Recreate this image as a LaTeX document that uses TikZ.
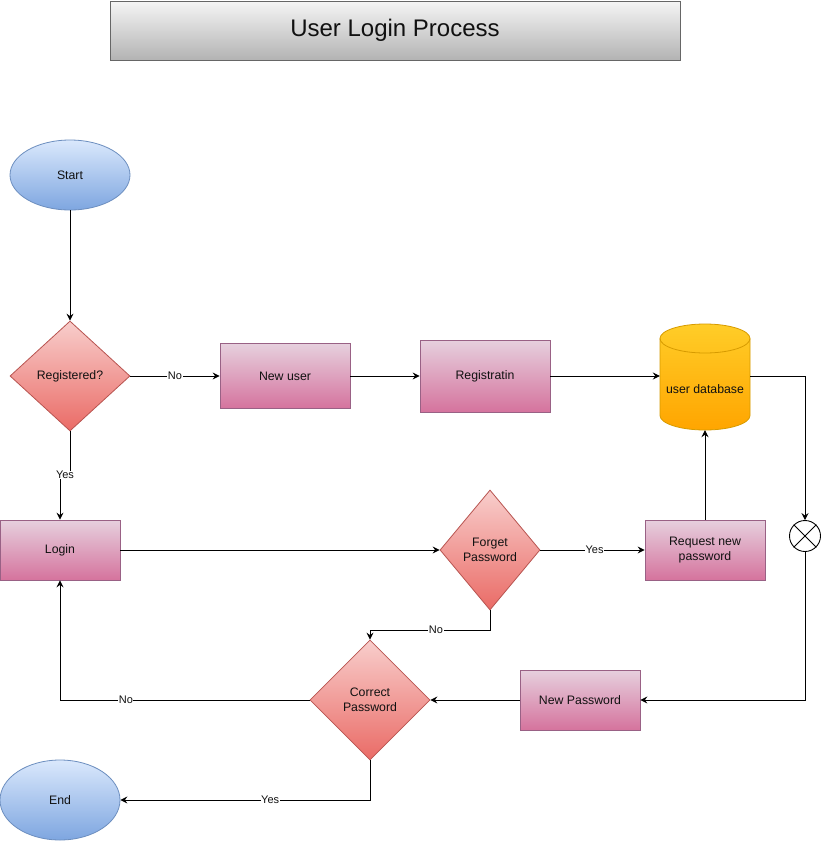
\documentclass[tikz,border=0pt]{standalone}
\usepackage{fontspec}
\setmainfont{Liberation Sans}
\usetikzlibrary{shapes.geometric,arrows.meta,calc}
\definecolor{bluetop}{HTML}{DAE8FC}
\definecolor{bluebot}{HTML}{7EA6E0}
\definecolor{blueline}{HTML}{6C8EBF}
\definecolor{redtop}{HTML}{F8CECC}
\definecolor{redbot}{HTML}{EA6B66}
\definecolor{redline}{HTML}{B85450}
\definecolor{pinktop}{HTML}{E6D0DE}
\definecolor{pinkbot}{HTML}{D5739D}
\definecolor{pinkline}{HTML}{996185}
\definecolor{orgtop}{HTML}{FFCD28}
\definecolor{orgbot}{HTML}{FFA500}
\definecolor{orgline}{HTML}{D79B00}
\definecolor{graytop}{HTML}{F5F5F5}
\definecolor{graybot}{HTML}{B3B3B3}
\definecolor{grayline}{HTML}{666666}
\definecolor{txt}{HTML}{111111}
\tikzset{
  base/.style={inner sep=1pt, line width=0.8pt, align=center, text=txt},
  titlebox/.style={base, draw=grayline, top color=graytop, bottom color=graybot, font=\fontsize{24}{28}\selectfont},
  term/.style={base, ellipse, draw=blueline, top color=bluetop, bottom color=bluebot},
  dec/.style={base, diamond, draw=redline, top color=redtop, bottom color=redbot, aspect=1},
  proc/.style={base, rectangle, draw=pinkline, top color=pinktop, bottom color=pinkbot},
  arr/.style={line width=0.9pt, draw=black, -{Stealth[length=7pt,width=7pt,inset=2.5pt]}},
  lbl/.style={fill=white, inner sep=0.5pt, font=\fontsize{11}{13}\selectfont, text=txt}
}
\begin{document}
\begin{tikzpicture}[x=1pt,y=-1pt,font=\fontsize{12.3}{14.5}\selectfont]
\useasboundingbox[fill=white] (0,0) rectangle (821,841);

% title
\node[titlebox, minimum width=570pt, minimum height=59pt] (title) at (395,30.5) {\raisebox{-2pt}{User Login Process}};

% nodes
\node[term, minimum width=120pt, minimum height=70pt] (start) at (70,175) {Start};
\node[dec, minimum width=120pt, minimum height=110pt] (reg) at (70,376) {Registered?};
\node[proc, minimum width=130pt, minimum height=65pt] (newu) at (285,376) {New user};
\node[proc, minimum width=130pt, minimum height=72pt] (regis) at (485,376) {Registratin};

% database cylinder
\shade[top color=orgtop, bottom color=orgbot, draw=orgline, line width=0.8pt]
  (660,338.5) -- (660,415.5) arc[start angle=180, end angle=360, x radius=45pt, y radius=14.5pt]
  -- (750,338.5) arc[start angle=0, end angle=180, x radius=45pt, y radius=14.5pt] -- cycle;
\draw[draw=orgline, line width=0.8pt] (660,338.5) arc[start angle=180, end angle=360, x radius=45pt, y radius=14.5pt];
\node[draw=none, minimum width=90pt, minimum height=106pt, inner sep=0pt] (db) at (705,377) {};
\node[text=txt] (dblabel) at (705,389) {user database};

\node[proc, minimum width=120pt, minimum height=60pt] (login) at (60,550) {Login};
\node[dec, minimum width=100pt, minimum height=120pt] (forget) at (490,550) {Forget\\Password};
\node[proc, minimum width=120pt, minimum height=60pt] (req) at (705,550) {Request new\\password};
\node[circle, draw=black, line width=0.9pt, minimum size=31pt, inner sep=0pt] (xc) at (805,536) {};
\draw[line width=0.9pt] (xc.north east) -- (xc.south west) (xc.north west) -- (xc.south east);
\node[dec, minimum width=120pt, minimum height=120pt] (correct) at (370,700) {Correct\\Password};
\node[proc, minimum width=120pt, minimum height=60pt] (newpw) at (580,700) {New Password};
\node[term, minimum width=120pt, minimum height=80pt] (endn) at (60,800) {End};

% connectors
\draw[arr] (start) -- (reg);
\draw[arr] (reg.east) -- node[lbl, pos=0.5]{No} (newu.west);
\draw[arr] (newu) -- (regis);
\draw[arr] (regis.east) -- (regis.east -| db.west);
\coordinate (yj) at (70,475);
\draw[arr] (reg.south) -- (yj) -- (60,475) -- (login.north);
\node[lbl] (yes1) at (65,475) {Yes};
\draw[arr] (login.east) -- (forget.west);
\draw[arr] (forget.east) -- node[lbl, pos=0.52]{Yes} (req.west);
\draw[arr] (req.north) -- (req.north |- db.south);
\coordinate (dbr) at (750,376);
\draw[arr] (dbr) -| (xc.north);
\draw[arr] (xc.south) |- (newpw.east);
\coordinate (fn) at (490,630);
\draw[arr] (forget.south) -- (fn) -- node[lbl, pos=0.45]{No} (fn -| correct.north) -- (correct.north);
\draw[arr] (newpw.west) -- (correct.east);
\draw[arr] (correct.west) -- node[lbl, pos=0.736]{No} (correct.west -| login.south) -- (login.south);
\coordinate (cy) at (370,800);
\draw[arr] (correct.south) -- (cy) -- node[lbl, pos=0.4]{Yes} (endn.east);
\end{tikzpicture}
\end{document}
